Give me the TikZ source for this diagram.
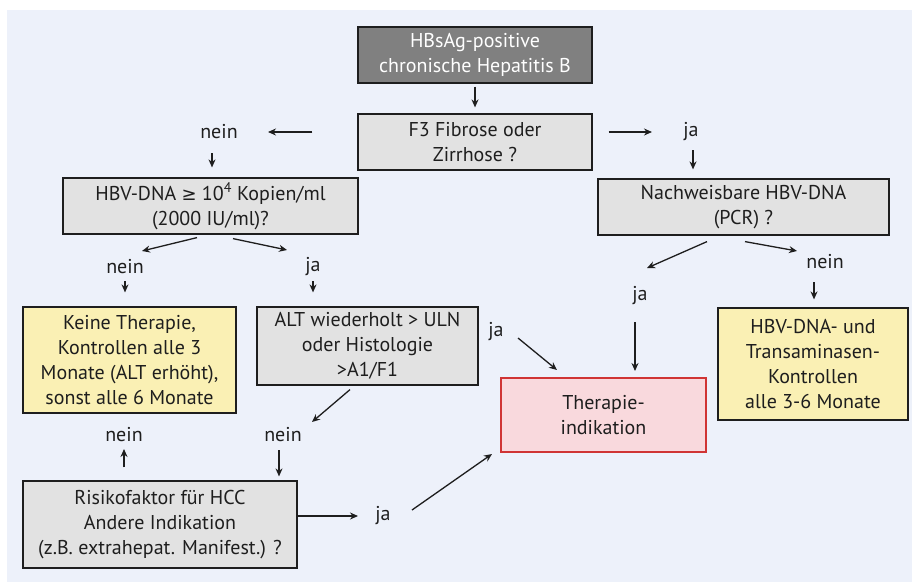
\documentclass[tikz,border=0pt]{standalone}
\usepackage{fontspec}
\setmainfont{PT Sans}
\newfontfamily\symfont{DejaVu Sans}
\usetikzlibrary{arrows.meta}
\definecolor{bgblue}{RGB}{237,241,250}
\definecolor{darkbox}{RGB}{128,128,128}
\definecolor{lightbox}{RGB}{226,226,226}
\definecolor{yellowbox}{RGB}{250,240,180}
\definecolor{pinkbox}{RGB}{249,217,221}
\definecolor{redline}{RGB}{208,52,52}
\definecolor{ink}{RGB}{30,30,30}
\tikzset{
  box/.style={rectangle, draw=ink, line width=1.2pt, inner sep=0pt, align=center, text=ink},
  graybox/.style={box, fill=lightbox},
  yelbox/.style={box, fill=yellowbox},
  lbl/.style={inner sep=0pt, text=ink},
  arr/.style={draw=ink, line width=1.3pt, -{Stealth[length=8pt,width=7pt]}},
}
\begin{document}
\begin{tikzpicture}[x=1pt,y=-1pt,font=\fontsize{20}{25}\selectfont]
\useasboundingbox (0,0) rectangle (912,584);
\fill[white] (0,0) rectangle (912,584);
\fill[bgblue] (7,10) rectangle (912,582);

% boxes
\node[box, fill=darkbox, text=white, minimum width=234pt, minimum height=56pt] (top) at (475,55) {HBsAg-positive\\chronische Hepatitis B};
\node[graybox, minimum width=234pt, minimum height=56pt] (f3) at (475,142) {F3 Fibrose oder\\Zirrhose ?};
\node[graybox, minimum width=295pt, minimum height=56pt] (hbv) at (210.5,206) {HBV-DNA {\symfont\fontsize{18}{25}\selectfont ≥} 10\textsuperscript{4} Kopien/ml\\(2000 IU/ml)?};
\node[graybox, minimum width=291pt, minimum height=56pt] (nach) at (743.5,207) {Nachweisbare HBV-DNA\\(PCR) ?};
\node[yelbox, minimum width=213pt, minimum height=106pt] (keine) at (129.5,360) {Keine Therapie,\\Kontrollen alle 3\\Monate (ALT erhöht),\\sonst alle 6 Monate};
\node[graybox, minimum width=221pt, minimum height=78pt] (alt) at (367.5,346) {ALT wiederholt > ULN\\oder Histologie\\>A1/F1};
\node[graybox, minimum width=274pt, minimum height=87pt] (risk) at (160,524.5) {Risikofaktor für HCC\\Andere Indikation\\(z.B. extrahepat. Manifest.) ?};
\node[box, draw=redline, line width=2pt, fill=pinkbox, minimum width=205pt, minimum height=74pt] (ther) at (603.5,415) {Therapie-\\indikation};
\node[yelbox, minimum width=190pt, minimum height=112pt] (und) at (813,364) {HBV-DNA- und\\Transaminasen-\\Kontrollen\\alle 3-6 Monate};

% labels
\node[lbl] (nein1) at (219,132) {nein};
\node[lbl] (ja1) at (691,132) {ja};
\node[lbl] (nein2) at (125,267) {nein};
\node[lbl] (ja2) at (313,267) {ja};
\node[lbl] (nein3) at (283,435) {nein};
\node[lbl] (nein4) at (124,435) {nein};
\node[lbl] (ja3) at (383,516) {ja};
\node[lbl] (ja4) at (640,296) {ja};
\node[lbl] (nein5) at (825,262) {nein};
\node[lbl] (ja5) at (496,332) {ja};

% connectors
\draw[arr, shorten <=3pt, shorten >=6pt] (top.south) -- (f3.north);
\draw[arr, shorten <=45pt, shorten >=49pt] (nein1.center -| f3.west) -- (nein1.center);
\draw[arr, shorten <=21pt, shorten >=10pt] ([shift={(-7,0)}]nein1.center) -- ([shift={(-7,0)}]nein1.center |- hbv.north);
\draw[arr, shorten <=16pt, shorten >=39pt] (ja1.center -| f3.east) -- (ja1.center);
\draw[arr, shorten <=18pt, shorten >=9pt] ([shift={(2,0)}]ja1.center) -- ([shift={(2,0)}]ja1.center |- nach.north);
\draw[arr] ([shift={(-13.5,3)}]hbv.south) -- ([shift={(17,-16)}]nein2.center);
\draw[arr] ([shift={(22.5,4)}]hbv.south) -- ([shift={(-26,-17)}]ja2.center);
\draw[arr, shorten <=14pt, shorten >=14pt] (nein2.center) -- (nein2.center |- keine.north);
\draw[arr, shorten <=14pt, shorten >=14pt] (ja2.center) -- (ja2.center |- alt.north);
\draw[arr] ([shift={(-17.5,4)}]alt.south) -- ([shift={(29,-13)}]nein3.center);
\draw[arr, shorten <=15pt, shorten >=4pt] ([shift={(-4,0)}]nein3.center) -- ([shift={(-4,0)}]nein3.center |- risk.north);
\draw[arr, shorten <=13pt, shorten >=14pt] (nein4.center |- risk.north) -- (nein4.center);
\draw[arr, shorten >=25pt] (ja3.center -| risk.east) -- (ja3.center);
\draw[arr] ([shift={(29,-6)}]ja3.center) -- ([shift={(-8,1)}]ther.south west);
\draw[arr] ([shift={(-36.5,6)}]nach.south) -- ([shift={(7,-28)}]ja4.center);
\draw[arr] ([shift={(1.5,6)}]nach.south) -- ([shift={(-28,-11)}]nein5.center);
\draw[arr] ([shift={(-11,20)}]nein5.center) -- ([shift={(1,-8)}]und.north);
\draw[arr] ([shift={(-5,26)}]ja4.center) -- ([shift={(31.5,-6)}]ther.north);
\draw[arr] ([shift={(22,6)}]ja5.center) -- ([shift={(-46.5,-7)}]ther.north);
\end{tikzpicture}
\end{document}
